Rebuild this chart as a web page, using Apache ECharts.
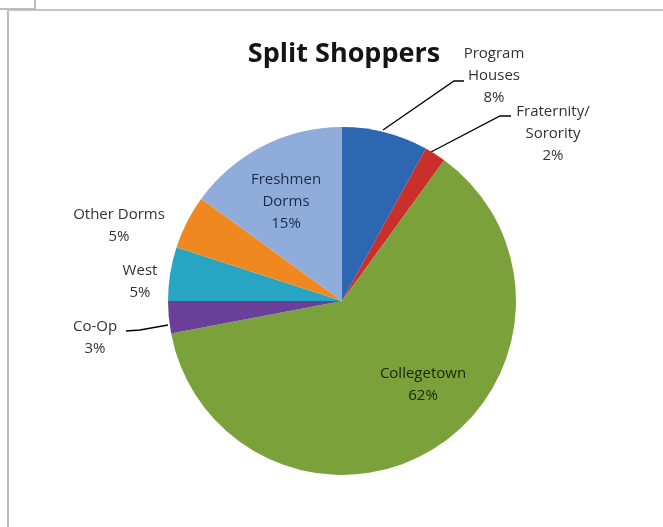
<!DOCTYPE html>
<html>
<head>
<meta charset="utf-8">
<script src="https://cdn.jsdelivr.net/npm/echarts@6/dist/echarts.min.js"></script>
<style>
html,body{margin:0;padding:0;background:#fff;}
#chart{width:663px;height:527px;}
</style>
</head>
<body>
<div id="chart"></div>
<script>
const categories = ['Program Houses', 'Fraternity/ Sorority', 'Collegetown', 'Co-Op', 'West', 'Other Dorms', 'Freshmen Dorms'];
const labelNames = ['Program\nHouses', 'Fraternity/\nSorority', 'Collegetown', 'Co-Op', 'West', 'Other Dorms', 'Freshmen\nDorms'];
const values = [8, 2, 62, 3, 5, 5, 15];
const colors = ['#2D67B2', '#C9302C', '#7BA23A', '#6A3F98', '#28A5C3', '#F08820', '#8FACDA'];
const labelColors = ['#333333', '#333333', '#1A260A', '#333333', '#333333', '#333333', '#1C2B4C'];

// label layout (positions / leader lines)
const labelPos = [
  {x: 494, y: 76, line: [[383, 130], [454, 81], [464, 81]]},
  {x: 553, y: 134, line: [[431, 152], [500, 116], [511, 116]]},
  {x: 423, y: 385},
  {x: 95, y: 338, line: [[168, 325], [140, 330], [126, 331]]},
  {x: 140, y: 282},
  {x: 119, y: 226},
  {x: 286, y: 202}
];

const chart = echarts.init(document.getElementById('chart'));
chart.setOption({
  animation: false,
  backgroundColor: '#ffffff',
  title: {
    text: 'Split Shoppers',
    left: 339, top: 36, textAlign: 'center',
    textStyle: {fontFamily: 'Open Sans', fontWeight: 'bold', fontSize: 27, color: '#141414'}
  },
  graphic: [
    {type: 'line', shape: {x1: 8, y1: 10, x2: 8, y2: 527}, style: {stroke: '#BDBDBD', lineWidth: 2}},
    {type: 'line', shape: {x1: 7, y1: 10, x2: 663, y2: 10}, style: {stroke: '#C4C4C4', lineWidth: 2}},
    {type: 'line', shape: {x1: 35, y1: 0, x2: 35, y2: 9}, style: {stroke: '#BDBDBD', lineWidth: 2}},
    {type: 'line', shape: {x1: 0, y1: 9, x2: 35, y2: 9}, style: {stroke: '#BDBDBD', lineWidth: 2}}
  ],
  series: [{
    type: 'pie',
    center: [342, 301],
    radius: 174,
    startAngle: 90,
    clockwise: true,
    avoidLabelOverlap: false,
    itemStyle: {borderWidth: 0},
    label: {
      show: true,
      position: 'outside',
      fontFamily: 'Open Sans',
      fontSize: 15,
      lineHeight: 22,
      align: 'center',
      formatter: p => labelNames[p.dataIndex] + '\n' + Math.round(p.percent) + '%'
    },
    labelLine: {show: true, lineStyle: {color: '#000000', width: 1.3}},
    labelLayout: function (params) {
      const lp = labelPos[params.dataIndex];
      const r = {x: lp.x, y: lp.y, align: 'center', verticalAlign: 'middle'};
      if (lp.line) r.labelLinePoints = lp.line;
      return r;
    },
    data: categories.map((c, i) => ({
      name: c,
      value: values[i],
      itemStyle: {color: colors[i]},
      label: {color: labelColors[i]},
      labelLine: {show: !!labelPos[i].line}
    }))
  }]
});
</script>
</body>
</html>
